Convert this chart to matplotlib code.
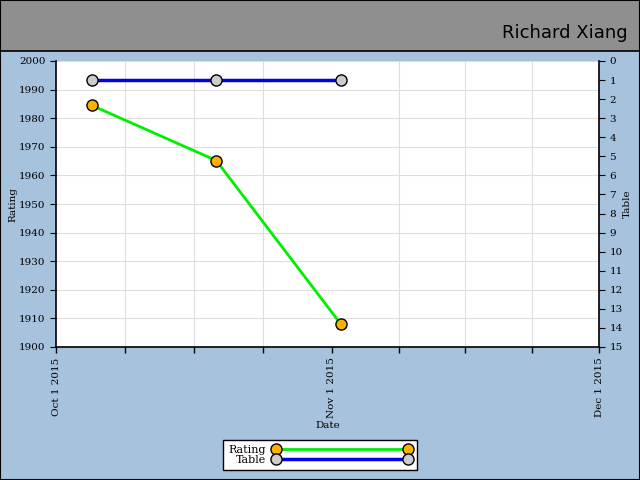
import datetime as dt
import matplotlib
matplotlib.use("Agg")
import matplotlib.pyplot as plt
from matplotlib.patches import Rectangle

dates = [dt.datetime(2015, 10, 5), dt.datetime(2015, 10, 19), dt.datetime(2015, 11, 2)]
rating = [1984.5, 1965.2, 1908.0]
table = [1, 1, 1]
player = "Richard Xiang"
month_ticks = [dt.datetime(2015, 10, 1), dt.datetime(2015, 11, 1), dt.datetime(2015, 12, 1)]
month_labels = ['Oct 1 2015', 'Nov 1 2015', 'Dec 1 2015']

x_start = month_ticks[0]
x_end = month_ticks[-1]

plt.rcParams['font.family'] = ['DejaVu Serif']
fs = 7.5

fig = plt.figure(figsize=(6.4, 4.8), dpi=100, facecolor='#a6c2dc')

# title band
fig.patches.append(Rectangle((0, 1 - 51 / 480), 1, 51 / 480, transform=fig.transFigure,
                             facecolor='#8f8f8f', edgecolor='black', linewidth=1.2, zorder=0))
fig.patches.append(Rectangle((0, 0), 1, 1, transform=fig.transFigure, fill=False,
                             edgecolor='black', linewidth=1.5, zorder=5))
fig.text(628 / 640, 1 - 38 / 480, player, ha='right', va='baseline', fontsize=13,
         family='DejaVu Sans', color='black')

ax = fig.add_axes([56 / 640, 1 - 347 / 480, 543 / 640, 286 / 480])
ax.set_facecolor('white')

ax.set_xlim(x_start, x_end)
# minor ticks: each month split in four
minor = []
for a, b in zip(month_ticks[:-1], month_ticks[1:]):
    step = (b - a) / 4
    minor += [a + step * i for i in range(4)]
minor.append(x_end)
ax.set_xticks(month_ticks)
ax.set_xticklabels(month_labels, rotation=90, fontsize=fs)
ax.set_xticks(minor, minor=True)
ax.tick_params(axis='x', which='both', direction='out', length=4, width=1)
ax.grid(True, which='minor', axis='x', color='#dddddd', linewidth=0.8)

ax.set_ylim(1900, 2000)
ax.set_yticks(range(1900, 2001, 10))
ax.tick_params(axis='y', labelsize=fs, length=4)
ax.grid(True, axis='y', color='#dddddd', linewidth=0.8)
ax.set_axisbelow(True)
ax.set_ylabel('Rating', fontsize=fs, labelpad=1)
ax.set_xlabel('Date', fontsize=fs, labelpad=2)

for s in ax.spines.values():
    s.set_linewidth(1.2)
ax.spines['top'].set_visible(False)
ax.spines['right'].set_visible(False)

ax2 = ax.twinx()
ax2.set_ylim(15, 0)
ax2.set_yticks(range(0, 16))
ax2.tick_params(axis='y', labelsize=fs, length=4)
ax2.set_ylabel('Table', fontsize=fs, labelpad=0)
for s in ax2.spines.values():
    s.set_visible(False)
ax2.spines['right'].set_visible(True)
ax2.spines['right'].set_linewidth(1.2)

l1, = ax.plot(dates, rating, color='#00ee00', linewidth=2, marker='o', markersize=8,
              markerfacecolor='#ffb000', markeredgecolor='black', markeredgewidth=1,
              label='Rating', clip_on=False, zorder=3)
l2, = ax2.plot(dates, table, color='#0000ee', linewidth=2.5, marker='o', markersize=8,
               markerfacecolor='#cccccc', markeredgecolor='black', markeredgewidth=1,
               label='Table', clip_on=False, zorder=3)

leg = fig.legend([l1, l2], ['Rating', 'Table'], loc='center', bbox_to_anchor=(320 / 640, 1 - 455 / 480),
                 fontsize=8, markerfirst=False, numpoints=2, handlelength=12.5, handletextpad=0.6,
                 labelspacing=0.05, borderpad=0.45, fancybox=False, framealpha=1,
                 edgecolor='black', facecolor='white')
leg.get_frame().set_linewidth(1)

fig.savefig('out.png', dpi=100, facecolor=fig.get_facecolor())
